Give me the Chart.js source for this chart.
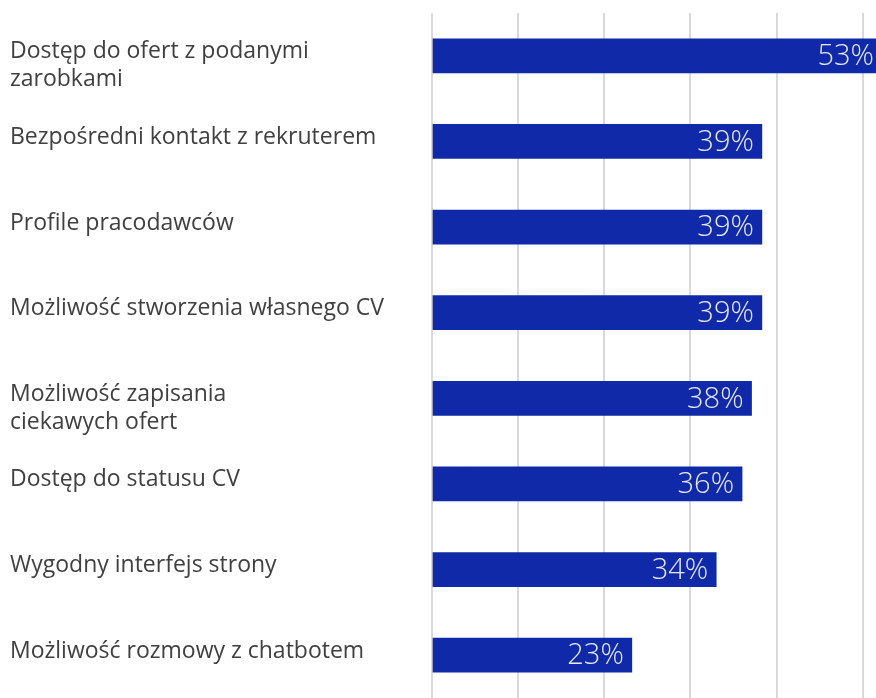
<!DOCTYPE html>
<html>
<head>
<meta charset="utf-8">
<script src="https://cdn.jsdelivr.net/npm/chart.js@4/dist/chart.umd.min.js"></script>
<style>
  body { margin: 0; background: #fff; }
  #wrap { width: 876px; height: 698px; position: relative; }
</style>
</head>
<body>
<div id="wrap"><canvas id="chart"></canvas></div>
<script>
// categories (left side labels, wrapped lines)
const categories = [
  ['Dostęp do ofert z podanymi', 'zarobkami'],
  ['Bezpośredni kontakt z rekruterem'],
  ['Profile pracodawców'],
  ['Możliwość stworzenia własnego CV'],
  ['Możliwość zapisania', 'ciekawych ofert'],
  ['Dostęp do statusu CV'],
  ['Wygodny interfejs strony'],
  ['Możliwość rozmowy z chatbotem']
];
// bar lengths (percent)
const values = [53, 38.3, 38.3, 38.3, 37.1, 36.0, 33.0, 23.2];
// printed labels inside the bars
const valueLabels = ['53%', '39%', '39%', '39%', '38%', '36%', '34%', '23%'];
const gridSteps = [0, 10, 20, 30, 40, 50];

const barColor = '#0f29a9';

// left text labels, first line level with the bar
const sideLabels = {
  id: 'sideLabels',
  afterDraw(chart) {
    const ctx = chart.ctx;
    const yScale = chart.scales.y;
    ctx.save();
    ctx.font = '400 23px "Open Sans"';
    ctx.fillStyle = '#404040';
    ctx.textAlign = 'left';
    ctx.textBaseline = 'middle';
    categories.forEach((lines, i) => {
      let y = yScale.getPixelForValue(i) - 4;
      lines.forEach((ln, k) => {
        ctx.fillText(ln, 10, y + k * 28);
      });
    });
    ctx.restore();
  }
};

// value text at the end of each bar
const barValues = {
  id: 'barValues',
  afterDatasetsDraw(chart) {
    const ctx = chart.ctx;
    const meta = chart.getDatasetMeta(0);
    const area = chart.chartArea;
    ctx.save();
    ctx.font = '300 29px "Open Sans"';
    ctx.fillStyle = '#e6e8f6';
    ctx.textAlign = 'right';
    ctx.textBaseline = 'middle';
    meta.data.forEach((bar, i) => {
      let x = Math.min(bar.x - 8, area.right - 2);
      ctx.fillText(valueLabels[i], x, bar.y + 1);
    });
    ctx.restore();
  }
};

new Chart(document.getElementById('chart'), {
  type: 'bar',
  data: {
    labels: categories,
    datasets: [{
      data: values,
      backgroundColor: barColor,
      borderWidth: 0,
      barThickness: 34
    }]
  },
  options: {
    indexAxis: 'y',
    responsive: true,
    maintainAspectRatio: false,
    animation: false,
    layout: { padding: { left: 432, top: 13, right: 0, bottom: 0 } },
    plugins: {
      legend: { display: false },
      tooltip: { enabled: false }
    },
    scales: {
      x: {
        min: 0,
        max: 51.55,
        border: { display: false },
        ticks: { display: false, stepSize: 10 },
        afterBuildTicks: (scale) => {
          scale.ticks = gridSteps.map(v => ({ value: v }));
        },
        grid: { color: '#d9d9d9', lineWidth: 2, drawTicks: false }
      },
      y: {
        display: false
      }
    }
  },
  plugins: [sideLabels, barValues]
});
</script>
</body>
</html>
